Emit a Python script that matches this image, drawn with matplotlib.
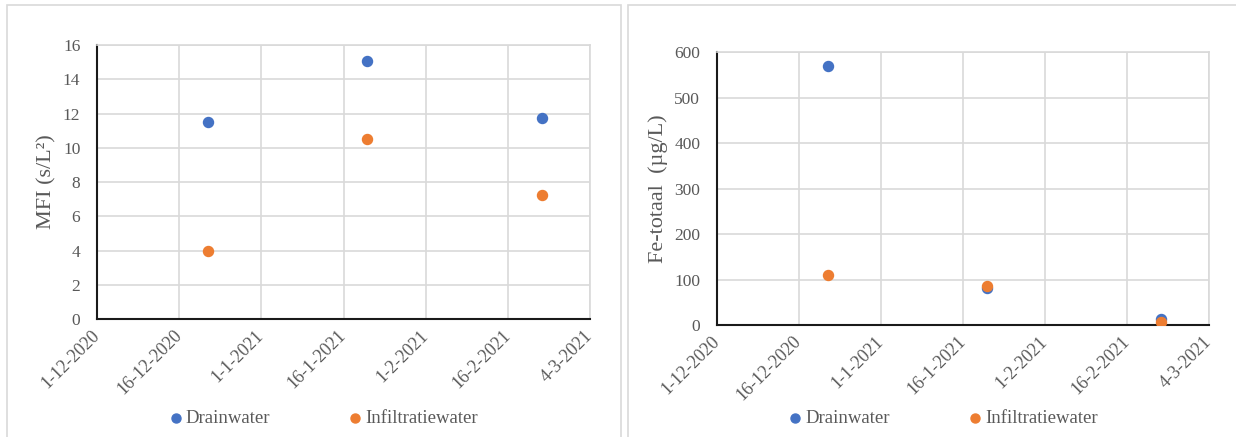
import datetime as dt
import matplotlib
matplotlib.use("Agg")
import matplotlib.pyplot as plt
import matplotlib.dates as mdates
from matplotlib.patches import Rectangle

plt.rcParams['font.family'] = ['Liberation Serif', 'DejaVu Serif']

# sampling dates
sample_dates = [dt.date(2020, 12, 22), dt.date(2021, 1, 21), dt.date(2021, 2, 23)]

# MFI (s/L2)
mfi_drain = [11.5, 15.05, 11.75]
mfi_infil = [3.97, 10.52, 7.25]

# Fe-totaal (ug/L)
fe_drain = [570, 81, 14]
fe_infil = [110, 86, 6]

tick_labels = ['1-12-2020', '16-12-2020', '1-1-2021', '16-1-2021',
               '1-2-2021', '16-2-2021', '4-3-2021']
x_start = mdates.date2num(dt.date(2020, 12, 1))
x_step = 15.5  # axis major unit in days

BLUE = '#4472C4'
ORANGE = '#ED7D31'
GREY = '#595959'
GRID = '#D9D9D9'

fig = plt.figure(figsize=(12.36, 4.37), dpi=100)

# chart area borders
fig.patches.append(Rectangle((0.0057, -0.05), 0.4967, 1.0385, transform=fig.transFigure,
                             fill=False, edgecolor=GRID, linewidth=1.2))
fig.patches.append(Rectangle((0.508, -0.05), 0.55, 1.0385, transform=fig.transFigure,
                             fill=False, edgecolor=GRID, linewidth=1.2))

ax1 = fig.add_axes([0.0785, 0.270, 0.3989, 0.627])
ax2 = fig.add_axes([0.580, 0.256, 0.398, 0.625])

xs = mdates.date2num(sample_dates)
ticks = [x_start + i * x_step for i in range(len(tick_labels))]


def style(ax, ymax, ystep, ylabel, label_x):
    ax.set_xlim(ticks[0], ticks[-1])
    ax.set_ylim(0, ymax)
    ax.set_xticks(ticks)
    ax.set_xticklabels(tick_labels, rotation=45, ha='right', va='center',
                       rotation_mode='anchor')
    ax.set_yticks(range(0, ymax + 1, ystep))
    ax.grid(True, color=GRID, linewidth=1.2)
    ax.set_axisbelow(True)
    for s in ['top', 'right']:
        ax.spines[s].set_color(GRID)
        ax.spines[s].set_linewidth(1.2)
    for s in ['left', 'bottom']:
        ax.spines[s].set_color('#1a1a1a')
        ax.spines[s].set_linewidth(1.5)
    ax.tick_params(axis='both', length=0, colors=GREY)
    ax.tick_params(axis='x', pad=10, labelsize=13)
    ax.tick_params(axis='y', pad=12, labelsize=12.5)
    ax.set_ylabel(ylabel, fontsize=16, color=GREY)
    ax.yaxis.set_label_coords(label_x, 0.5)


ax1.scatter(xs, mfi_drain, s=52, color=BLUE, label='Drainwater', zorder=3)
ax1.scatter(xs, mfi_infil, s=52, color=ORANGE, label='Infiltratiewater', zorder=3)
style(ax1, 16, 2, 'MFI (s/L²)', -0.082)

ax2.scatter(xs, fe_drain, s=52, color=BLUE, label='Drainwater', zorder=3)
ax2.scatter(xs, fe_infil, s=52, color=ORANGE, label='Infiltratiewater', zorder=3)
style(ax2, 600, 100, 'Fe-totaal  (µg/L)', -0.1)

for ax, cx in [(ax1, 0.2605), (ax2, 0.762)]:
    leg = ax.legend(loc='center', bbox_to_anchor=(cx, 0.043), bbox_transform=fig.transFigure,
                    ncol=2, frameon=False, fontsize=13.5, handletextpad=0.05,
                    columnspacing=4.0, markerscale=0.9, handlelength=1.0)
    for t in leg.get_texts():
        t.set_color(GREY)

fig.savefig('out.png', dpi=100)
